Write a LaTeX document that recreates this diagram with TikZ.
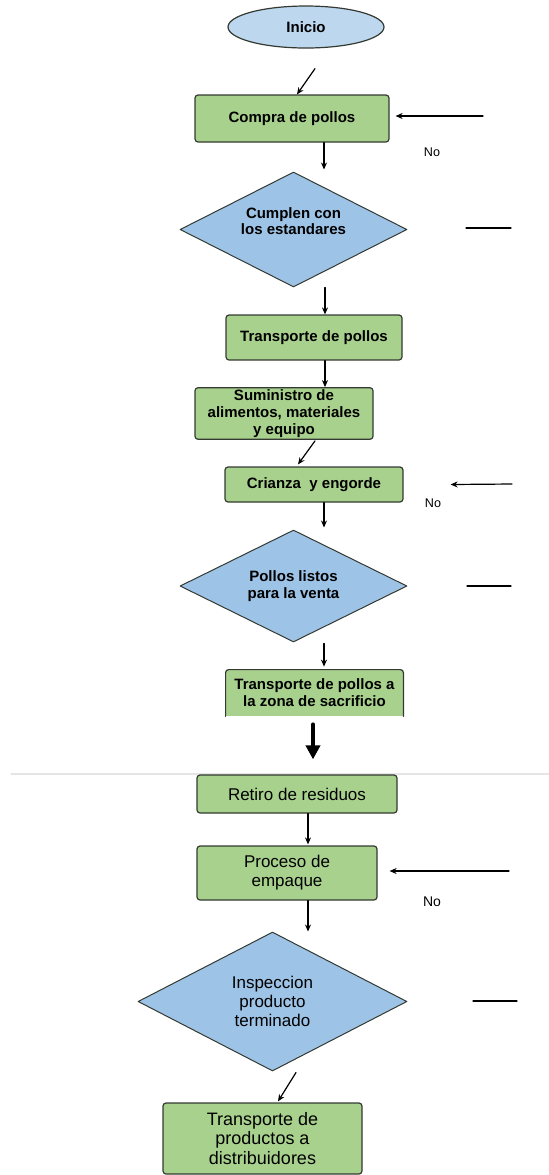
\documentclass[tikz,border=0pt]{standalone}
\usepackage{fontspec}
\setmainfont{Liberation Sans}
\usetikzlibrary{shapes.geometric,arrows.meta}
\definecolor{verde}{HTML}{A9D18E}
\definecolor{azul}{HTML}{9DC3E6}
\definecolor{celeste}{HTML}{BDD7EE}
\definecolor{borde}{HTML}{343A31}
\begin{document}
\begin{tikzpicture}[x=0.5pt,y=-0.5pt,>={Stealth[length=3.5pt,width=3pt]}, line join=round, line cap=round,
	caja/.style={draw=borde,fill=verde,rounded corners=1.5pt,align=center,inner sep=1pt,line width=0.6pt},
	rombo/.style={diamond,aspect=2,draw=borde,fill=azul,align=center,inner sep=0pt,line width=0.5pt},
	arriba/.style={font=\fontsize{7.5}{8.4}\selectfont\bfseries},
	abajo/.style={font=\fontsize{8.5}{9.5}\selectfont},
	flecha/.style={->,line width=0.6pt}]
	\useasboundingbox (0,0) rectangle (549,1175);
	% parte de arriba
	\node[ellipse,draw=borde,fill=celeste,line width=0.6pt,minimum width=78pt,minimum height=21pt,arriba] (ini) at (306,27) {Inicio};
	\node[caja,arriba,minimum width=97pt,minimum height=23.5pt] (com) at (292,118.5) {Compra de pollos};
	\node[rombo,arriba,minimum width=113.5pt,minimum height=57.5pt] (cum) at (293.5,229.5) {Cumplen con\\los estandares\\[0pt]};
	\node[caja,arriba,minimum width=88pt,minimum height=22.5pt] (tra) at (314,337.5) {Transporte de pollos};
	\node[caja,arriba,minimum width=89pt,minimum height=25.5pt] (sum) at (284,413.5) {Suministro de\\alimentos, materiales\\y equipo};
	\node[caja,arriba,minimum width=89pt,minimum height=17.5pt] (cri) at (314,484.5) {Crianza\ \ y engorde};
	\node[rombo,arriba,minimum width=113.5pt,minimum height=56pt] (lis) at (293.5,586) {Pollos listos\\para la venta};
	\node[fill=verde,align=center,arriba,minimum width=88.5pt,minimum height=23pt,inner sep=1pt] (zon) at (314.5,693) {Transporte de pollos a\\la zona de sacrificio};
	\draw[borde,line width=0.6pt,rounded corners=1.5pt] (zon.south west) -- (zon.north west) -- (zon.north east) -- (zon.south east);
	\coordinate (fb1) at (483,116);
	\coordinate (fb2) at (512,484);
	\coordinate (ln1a) at (466,228); \coordinate (ln1b) at (511,228);
	\coordinate (ln2a) at (467,586); \coordinate (ln2b) at (511,586);
	\node[font=\fontsize{6.3}{7}\selectfont] (no1) at (432,152) {No};
	\node[font=\fontsize{6.3}{7}\selectfont] (no2) at (433,503) {No};
	\draw[flecha] ([xshift=4.5pt,yshift=-10pt]ini.south) -- ([xshift=2.5pt]com.north);
	\draw[flecha] (fb1) -- ([xshift=3pt,yshift=1.25pt]com.east);
	\draw[flecha] ([xshift=16pt]com.south) -- ([xshift=15.25pt,yshift=1pt]cum.north);
	\draw[line width=0.6pt] (ln1a) -- (ln1b);
	\draw[flecha] ([xshift=15.75pt]cum.south) -- ([xshift=5.5pt]tra.north);
	\draw[flecha] ([xshift=5.5pt]tra.south) -- ([xshift=20.5pt]sum.north);
	\draw[flecha] ([xshift=15.5pt,yshift=-0.5pt]sum.south) -- ([xshift=-8pt,yshift=1pt]cri.north);
	\draw[flecha] (fb2) -- ([xshift=23.5pt]cri.east);
	\draw[flecha] ([xshift=5pt]cri.south) -- ([xshift=15.25pt,yshift=1pt]lis.north);
	\draw[line width=0.6pt] (ln2a) -- (ln2b);
	\draw[flecha] ([xshift=15.25pt,yshift=-0.5pt]lis.south) -- ([xshift=4.75pt,yshift=1.5pt]zon.north);
	% parte de abajo
	\draw[black!10,line width=0.6pt] (11,774) -- (549,774);
	\node[caja,abajo,minimum width=100pt,minimum height=19pt] (ret) at (297,794) {Retiro de residuos};
	\node[caja,abajo,minimum width=90pt,minimum height=27pt] (pro) at (287,873) {Proceso de\\empaque};
	\node[rombo,abajo,minimum width=134.5pt,minimum height=69.5pt] (ins) at (272.5,1001.5) {Inspeccion\\producto\\terminado};
	\node[caja,font=\fontsize{9}{9.6}\selectfont,minimum width=99.5pt,minimum height=35.5pt] (dis) at (262.5,1138.5) {Transporte de\\productos a\\distribuidores};
	\coordinate (fb3) at (509,871);
	\coordinate (ln3a) at (473,1001); \coordinate (ln3b) at (517,1001);
	\node[font=\fontsize{7}{8}\selectfont] (no3) at (432,902) {No};
	\draw[line width=2pt,-{Triangle[length=7pt,width=7pt]}] ([xshift=-0.75pt,yshift=-4pt]zon.south) -- ([xshift=8pt,yshift=7.5pt]ret.north);
	\draw[flecha] ([xshift=5.5pt]ret.south) -- ([xshift=10.5pt,yshift=0.5pt]pro.north);
	\draw[flecha] (fb3) -- ([xshift=6pt,yshift=1pt]pro.east);
	\draw[flecha] ([xshift=10.5pt]pro.south) -- ([xshift=17.75pt]ins.north);
	\draw[line width=0.6pt] (ln3a) -- (ln3b);
	\draw[flecha] ([xshift=11.75pt,yshift=-0.5pt]ins.south) -- ([xshift=7.75pt,yshift=0.5pt]dis.north);
\end{tikzpicture}
\end{document}
